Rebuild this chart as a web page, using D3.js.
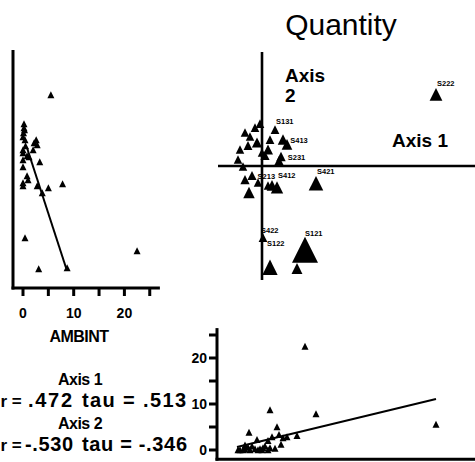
<!DOCTYPE html>
<html>
<head>
<meta charset="utf-8">
<script src="https://cdn.jsdelivr.net/npm/d3@7"></script>
<style>
  html, body { margin: 0; padding: 0; background: #fff; }
  svg { display: block; }
  text { font-family: "Liberation Sans", Arial, sans-serif; fill: #000; }
</style>
</head>
<body>
<svg id="chart" width="475" height="462"></svg>
<script>
// ---------- data ----------
const siteNames = ["S222","S121","S122","S421","S221","S322","S321","S111","S211","S422",
  "S112","S113","S114","S311","S312","S313","S212","S213","S214","S411",
  "S412","S413","S414","S314","S131","S132","S133","S231","S232","S233","S331"];
const axis1Scores = [4.35, 1.075, 0.2, 1.35, 0.875, 0.375, -0.325, -0.125, 0.425, 0.025,
  -0.55, -0.425, -0.3, -0.175, 0, 0.075, -0.475, -0.25, -0.1, 0.15,
  0.25, 0.525, 0.625, 0.15, 0.325, -0.05, -0.35, 0.475, -0.425, -0.6, 0.2];
const axis2Scores = [1.775, -2.125, -2.55, -0.45, -2.575, -0.55, -0.675, 0.575, 0.1, -1.8,
  0.4, 0.825, 0.725, 0.95, 0.325, 0.25, -0.025, -0.25, -0.425, -0.5,
  -0.5, 0.65, 0.525, 0.4, 0.9, 1.05, 0.5, 0.225, -0.35, 0.15, 0.65];
const ambint = [5.5, 22.5, 8.7, 7.8, 3.1, 5.0, 3.8, 2.2, 3.3, 0.4,
  0, 0.1, 0, 0.2, 0, 0.8, 0, 0.8, 0, 0,
  2.8, 2.6, 2.8, 2.0, 0.3, 0.2, 0.5, 1.2, 1.0, 0, 0.4];
// sites whose labels are legible in the joint plot
const labeledSites = ["S222","S121","S122","S421","S422","S131","S413","S231","S213","S412"];

const ambTicks = [0, 5, 10, 15, 20, 25];
const ambTickLabels = ["0", "", "10", "", "20", ""];

// fitted lines in side panels
const leftFitAmbint = [0.8, 8.5];
const leftFitAxis2 = [0.45, -2.55];
const bottomFitAxis1 = [-0.625, 4.35];
const bottomFitAmbint = [0.65, 11.1];

const titleText = "Quantity";
const varName = "AMBINT";
const statTitles = ["Axis 1", "Axis 2"];
const statRLabel = "r =";
const statR = [".472", "-.530"];
const statTau = ["tau = .513", "tau = -.346"];

// ---------- layout ----------
const svg = d3.select("#chart");

const ordX = d3.scaleLinear().domain([-1.1, 5.325]).range([218, 475]);
const ordY = d3.scaleLinear().domain([-2.85, 2.85]).range([280, 52]);
const ambX = d3.scaleLinear().domain([0, 25]).range([23, 149.75]);
const ambY = d3.scaleLinear().domain([0, 25]).range([450, 335]);
const symW = d3.scaleLinear().domain([0, 25]).range([8.5, 28]);

const sites = siteNames.map((n, i) => ({name: n, a1: axis1Scores[i], a2: axis2Scores[i], amb: ambint[i]}));

function tri(cx, cy, w) {
  const h = w;
  return `M${cx},${cy - h * 0.55}L${cx + w / 2},${cy + h * 0.45}L${cx - w / 2},${cy + h * 0.45}Z`;
}

// ---------- title ----------
svg.append("text").attr("x", 341).attr("y", 35).attr("text-anchor", "middle")
  .style("font-size", "30px").text(titleText);

// ---------- ordination ----------
const ord = svg.append("g");
ord.append("line").attr("x1", ordX(0)).attr("x2", ordX(0))
  .attr("y1", ordY.range()[1]).attr("y2", ordY.range()[0])
  .attr("stroke", "#000").attr("stroke-width", 2.6);
ord.append("line").attr("x1", ordX.range()[0]).attr("x2", ordX.range()[1])
  .attr("y1", ordY(0)).attr("y2", ordY(0))
  .attr("stroke", "#000").attr("stroke-width", 2.6);

ord.append("text").attr("x", 285).attr("y", 82).style("font-size", "19px").style("font-weight", "bold").text("Axis");
ord.append("text").attr("x", 285).attr("y", 102).style("font-size", "19px").style("font-weight", "bold").text("2");
ord.append("text").attr("x", 392).attr("y", 147).style("font-size", "19px").style("font-weight", "bold").text("Axis 1");

ord.selectAll("path.site").data(sites).enter().append("path")
  .attr("d", d => tri(ordX(d.a1), ordY(d.a2), symW(d.amb)))
  .attr("fill", "#000");

// label placement: "above" the symbol, or "right" of it, plus small nudges
const labelPlace = {
  S222: ["above", 0, 0], S121: ["above", -1, 1], S122: ["above", -4, -12],
  S421: ["above", 0, 0], S422: ["above", -3, 2],
  S131: ["above", 0, 1], S413: ["right", 0, 0], S231: ["right", 0, 0],
  S213: ["right", -1, 0], S412: ["above", 5, 0]
};
const labData = sites.filter(d => labeledSites.includes(d.name));
ord.selectAll("text.lab").data(labData).enter().append("text")
  .attr("x", d => {
    const p = labelPlace[d.name];
    const w = symW(d.amb);
    return ordX(d.a1) + (p[0] === "right" ? w / 2 + 2 : 1) + p[1];
  })
  .attr("y", d => {
    const p = labelPlace[d.name];
    const w = symW(d.amb);
    return ordY(d.a2) + (p[0] === "right" ? 2.5 : -w * 0.55 - 2) + p[2];
  })
  .style("font-size", "7.5px").style("font-weight", "bold")
  .text(d => d.name);

// ---------- left panel (AMBINT vs Axis 2) ----------
const left = svg.append("g");
const lBottom = ordY(-3.05);
left.append("line").attr("x1", 13).attr("x2", 13).attr("y1", ordY(2.9)).attr("y2", lBottom + 1.5)
  .attr("stroke", "#000").attr("stroke-width", 3);
left.append("line").attr("x1", 11.5).attr("x2", ambX(27)).attr("y1", lBottom).attr("y2", lBottom)
  .attr("stroke", "#000").attr("stroke-width", 3);
left.selectAll("line.tk").data(ambTicks).enter().append("line")
  .attr("x1", d => ambX(d)).attr("x2", d => ambX(d))
  .attr("y1", lBottom).attr("y2", lBottom + 8)
  .attr("stroke", "#000").attr("stroke-width", 3);
left.selectAll("text.tl").data(ambTicks).enter().append("text")
  .attr("x", d => ambX(d)).attr("y", 318).attr("text-anchor", "middle")
  .style("font-size", "14px").style("font-weight", "bold")
  .text((d, i) => ambTickLabels[i]);
left.append("text").attr("x", 79).attr("y", 342).attr("text-anchor", "middle")
  .style("font-size", "16px").style("font-weight", "bold").style("letter-spacing", "-0.5px").text(varName);
left.selectAll("path.pt").data(sites).enter().append("path")
  .attr("d", d => tri(ambX(d.amb), ordY(d.a2), 7)).attr("fill", "#000");
left.append("path")
  .attr("d", d3.line()(leftFitAmbint.map((v, i) => [ambX(v), ordY(leftFitAxis2[i])])))
  .attr("stroke", "#000").attr("stroke-width", 2).attr("fill", "none");

// ---------- bottom panel (Axis 1 vs AMBINT) ----------
const bot = svg.append("g");
const bLeft = ordX(-1.125);
bot.append("line").attr("x1", bLeft).attr("x2", bLeft).attr("y1", ambY(26.5)).attr("y2", ambY(-2) + 1.5)
  .attr("stroke", "#000").attr("stroke-width", 3);
bot.append("line").attr("x1", bLeft - 1.5).attr("x2", 475).attr("y1", ambY(-2)).attr("y2", ambY(-2))
  .attr("stroke", "#000").attr("stroke-width", 3);
bot.selectAll("line.tk").data(ambTicks).enter().append("line")
  .attr("x1", bLeft - 8).attr("x2", bLeft)
  .attr("y1", d => ambY(d)).attr("y2", d => ambY(d))
  .attr("stroke", "#000").attr("stroke-width", 3);
bot.selectAll("text.tl").data(ambTicks).enter().append("text")
  .attr("x", 207).attr("y", d => ambY(d) + 5).attr("text-anchor", "end")
  .style("font-size", "14px").style("font-weight", "bold")
  .text((d, i) => ambTickLabels[i]);
bot.selectAll("path.pt").data(sites).enter().append("path")
  .attr("d", d => tri(ordX(d.a1), ambY(d.amb), 7)).attr("fill", "#000");
bot.append("path")
  .attr("d", d3.line()(bottomFitAxis1.map((v, i) => [ordX(v), ambY(bottomFitAmbint[i])])))
  .attr("stroke", "#000").attr("stroke-width", 2).attr("fill", "none");

// ---------- statistics text ----------
const stat = svg.append("g");
const statRows = [
  {title: 385, line: 407, rStart: 28, rLen: 44, tauLen: 104},
  {title: 429, line: 451, rStart: 25, rLen: 48, tauLen: 105}
];
statRows.forEach((row, i) => {
  stat.append("text").attr("x", 80).attr("y", row.title).attr("text-anchor", "middle")
    .style("font-size", "16px").style("font-weight", "bold").style("letter-spacing", "-0.5px").text(statTitles[i]);
  stat.append("text").attr("x", 0.5).attr("y", row.line)
    .style("font-size", "17px").style("font-weight", "bold").text(statRLabel);
  stat.append("text").attr("x", row.rStart).attr("y", row.line)
    .attr("textLength", row.rLen).attr("lengthAdjust", "spacing")
    .style("font-size", "20px").style("font-weight", "bold").text(statR[i]);
  stat.append("text").attr("x", 82).attr("y", row.line)
    .attr("textLength", row.tauLen).attr("lengthAdjust", "spacing")
    .style("font-size", "20px").style("font-weight", "bold").text(statTau[i]);
});
</script>
</body>
</html>
